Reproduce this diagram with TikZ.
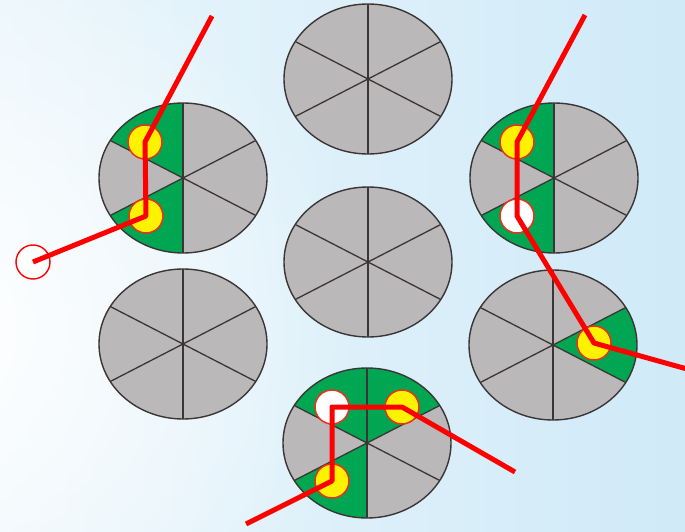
\documentclass[tikz,border=0pt]{standalone}
\usetikzlibrary{fadings}
\definecolor{bgR}{HTML}{D0EAF8}
\definecolor{bgL}{HTML}{EAF6FC}
\definecolor{cgray}{HTML}{BAB8B8}
\definecolor{cedge}{HTML}{3C3535}
\definecolor{cgreen}{HTML}{00A651}
\definecolor{cyellow}{HTML}{FFF200}
\definecolor{cred}{HTML}{FF0000}
\definecolor{cring}{HTML}{E8331C}
\tikzfading[name=softglow, inner color=transparent!0, outer color=transparent!100]
\begin{document}
\begin{tikzpicture}[x=1pt,y=-1pt,
  wheelfill/.style={fill=cgray},
  sectorfill/.style={fill=cgreen},
  spoke/.style={draw=cedge, line width=1.3pt},
  rim/.style={draw=cedge, line width=1.4pt},
  dotbase/.style={circle, draw=cring, line width=1.5pt, minimum size=34pt, inner sep=0pt},
  ydot/.style={dotbase, fill=cyellow},
  wdot/.style={dotbase, fill=white},
  odot/.style={circle, draw=cred, line width=1.4pt, fill=white, minimum size=34pt, inner sep=0pt},
  ray/.style={draw=cred, line width=5pt, line join=round}]
\path[use as bounding box] (0,0) rectangle (685,532);
\clip (0,0) rectangle (685,532);
\shade[left color=bgL, right color=bgR] (0,0) rectangle (685,532);
\fill[white, path fading=softglow] (-60,330) ellipse [x radius=420, y radius=420];
% wheel centres
\foreach \n/\x/\y in {wT/368/79, wL/183/178, wR/554/178, wC/368/262, wLB/183/344, wRM/553/345, wB/367/443}
  \coordinate (\n) at (\x,\y);
% grey discs
\foreach \n in {wT,wL,wR,wC,wLB,wRM,wB}
  \fill[wheelfill] (\n) ellipse [x radius=84, y radius=75];
% green sectors
\foreach \n/\s/\e in {wL/210/270, wL/90/150, wR/210/270, wR/90/150, wRM/-30/30, wB/210/270, wB/270/330, wB/90/150}
  \fill[sectorfill] (\n) -- ++(\s:84 and 75) arc[start angle=\s, end angle=\e, x radius=84, y radius=75] -- cycle;
% spokes and rims
\foreach \n in {wT,wL,wR,wC,wLB,wRM,wB}{
  \foreach \a/\b in {30/210, 90/270, 150/330}
    \draw[spoke] (\n) +(\a:84 and 75) -- +(\b:84 and 75);
  \draw[rim] (\n) ellipse [x radius=84, y radius=75];
}
% dots
\node[ydot] (p1) at (145,142) {};
\node[ydot] (p2) at (146,216) {};
\node[odot] (o1) at (33,262) {};
\node[ydot] (q1) at (517,142) {};
\node[wdot] (q2) at (517,216) {};
\node[ydot] (q3) at (594,343) {};
\node[ydot] (r1) at (332,481) {};
\node[wdot] (r2) at (332,407) {};
\node[ydot] (r3) at (402,407) {};
% free ends
\coordinate (e1) at (212,16);
\coordinate (e2) at (585,15);
\coordinate (e3) at (687,369);
\coordinate (e4) at (246,524);
\coordinate (e5) at (515,472);
% rays
\draw[ray] (e1) -- (p1.center) -- (p2.center) -- (o1.center);
\draw[ray] (e2) -- (q1.center) -- (q2.center) -- (q3.center) -- (e3);
\draw[ray] (e4) -- (r1.center) -- (r2.center) -- (r3.center) -- (e5);
\end{tikzpicture}
\end{document}
